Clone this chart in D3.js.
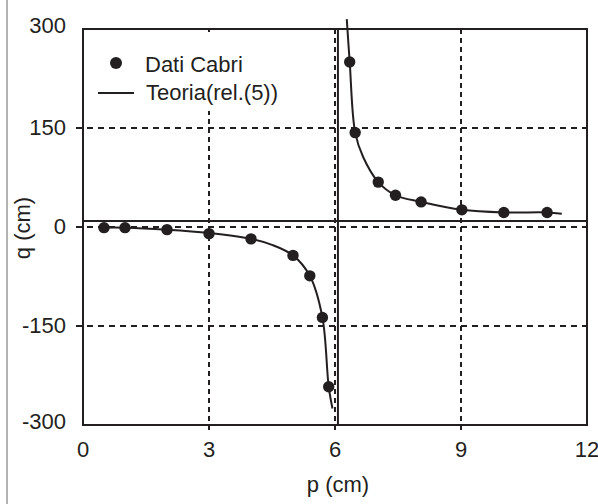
<!DOCTYPE html>
<html>
<head>
<meta charset="utf-8">
<script src="https://cdn.jsdelivr.net/npm/d3@7"></script>
<style>
  body { margin: 0; background: #fff; }
  text { font-family: "Liberation Sans", Arial, sans-serif; fill: #231f20; }
</style>
</head>
<body>
<script>
// measured points (Cabri)
const pData = [0.5, 1, 2, 3, 4, 5, 5.4, 5.7, 5.85, 6.35, 6.48, 7.03, 7.44, 8.05, 9.02, 10.02, 11.05];
const qData = [-1, -1, -4, -10, -18, -43, -74, -137, -242, 250, 143, 68, 48, 38, 26, 22, 22];

// theory curve, two branches
const pTheoryLeft = [0.45, 1, 2, 3, 4, 4.5, 5, 5.4, 5.7, 5.85, 5.94];
const qTheoryLeft = [-1, -1, -4, -9, -18, -27, -43, -74, -137, -242, -275];
const pTheoryRight = [6.28, 6.35, 6.48, 6.67, 7.03, 7.44, 8.05, 9.02, 10.02, 11.05, 11.4];
const qTheoryRight = [315, 250, 143, 106, 68, 48, 38, 26, 22, 22, 20];

// asymptotes
const pAsym = 6.07;
const qAsym = 9;

const xTicks = [0, 3, 6, 9, 12];
const yTicks = [300, 150, 0, -150, -300];

const width = 598, height = 504;
const ink = "#231f20";

const svg = d3.select("body").append("svg")
    .attr("width", width)
    .attr("height", height);

const x = d3.scaleLinear().domain([0, 12]).range([83, 587]);
const y = d3.scaleLinear().domain([-300, 300]).range([425, 29]);

// thin gray edge on the left
svg.append("line")
    .attr("x1", 7).attr("x2", 7)
    .attr("y1", 0).attr("y2", height)
    .attr("stroke", "#9a9a9a")
    .attr("stroke-width", 1.5);

// dashed grid (sticks out a bit past the frame)
svg.append("g").selectAll("line")
    .data(yTicks.filter(d => d !== 300 && d !== -300))
    .join("line")
    .attr("x1", x(0) - 7).attr("x2", x(12))
    .attr("y1", d => y(d)).attr("y2", d => y(d))
    .attr("stroke", ink).attr("stroke-width", 2)
    .attr("stroke-dasharray", "6,5");

svg.append("g").selectAll("line")
    .data(xTicks.filter(d => d !== 0 && d !== 12))
    .join("line")
    .attr("x1", d => x(d)).attr("x2", d => x(d))
    .attr("y1", y(300)).attr("y2", y(-300) + 7)
    .attr("stroke", ink).attr("stroke-width", 2)
    .attr("stroke-dasharray", "5,4");

// legend background hides the grid behind it
svg.append("rect")
    .attr("x", 86).attr("y", 32)
    .attr("width", 190).attr("height", 79)
    .attr("fill", "#fff");

// frame
svg.append("rect")
    .attr("x", x(0)).attr("y", y(300))
    .attr("width", x(12) - x(0)).attr("height", y(-300) - y(300))
    .attr("fill", "none")
    .attr("stroke", ink).attr("stroke-width", 2);

// asymptotes
svg.append("line")
    .attr("x1", x(0)).attr("x2", x(12))
    .attr("y1", y(qAsym)).attr("y2", y(qAsym))
    .attr("stroke", ink).attr("stroke-width", 2);
svg.append("line")
    .attr("x1", x(pAsym)).attr("x2", x(pAsym))
    .attr("y1", y(300)).attr("y2", y(-300))
    .attr("stroke", ink).attr("stroke-width", 2);

// theory curve
const line = d3.line()
    .x(d => x(d[0]))
    .y(d => y(d[1]))
    .curve(d3.curveCatmullRom.alpha(0.5));

[[pTheoryLeft, qTheoryLeft], [pTheoryRight, qTheoryRight]].forEach(([ps, qs]) => {
    svg.append("path")
        .datum(ps.map((p, i) => [p, qs[i]]))
        .attr("d", line)
        .attr("fill", "none")
        .attr("stroke", ink)
        .attr("stroke-width", 2);
});

// data points
svg.append("g").selectAll("circle")
    .data(pData.map((p, i) => [p, qData[i]]))
    .join("circle")
    .attr("cx", d => x(d[0]))
    .attr("cy", d => y(d[1]))
    .attr("r", 5.7)
    .attr("fill", ink);

// tick labels (the end labels sit a little higher in the original)
svg.append("g").selectAll("text")
    .data(yTicks)
    .join("text")
    .attr("x", 66)
    .attr("y", d => y(d) - (Math.abs(d) === 300 ? 4 : 1))
    .attr("dy", "0.35em")
    .attr("text-anchor", "end")
    .attr("font-size", 22)
    .text(d => d);

svg.append("g").selectAll("text")
    .data(xTicks)
    .join("text")
    .attr("x", d => x(d))
    .attr("y", 457)
    .attr("text-anchor", "middle")
    .attr("font-size", 22)
    .text(d => d);

// axis titles
svg.append("text")
    .attr("x", 338).attr("y", 492)
    .attr("text-anchor", "middle")
    .attr("font-size", 22)
    .text("p (cm)");

svg.append("text")
    .attr("transform", "translate(30,228) rotate(-90)")
    .attr("text-anchor", "middle")
    .attr("font-size", 22)
    .text("q (cm)");

// legend
svg.append("circle")
    .attr("cx", 116).attr("cy", 63)
    .attr("r", 6)
    .attr("fill", ink);
svg.append("text")
    .attr("x", 145).attr("y", 72)
    .attr("font-size", 22)
    .text("Dati Cabri");
svg.append("line")
    .attr("x1", 98).attr("x2", 134)
    .attr("y1", 93).attr("y2", 93)
    .attr("stroke", ink).attr("stroke-width", 2);
svg.append("text")
    .attr("x", 146).attr("y", 100)
    .attr("font-size", 22)
    .text("Teoria(rel.(5))");
</script>
</body>
</html>
